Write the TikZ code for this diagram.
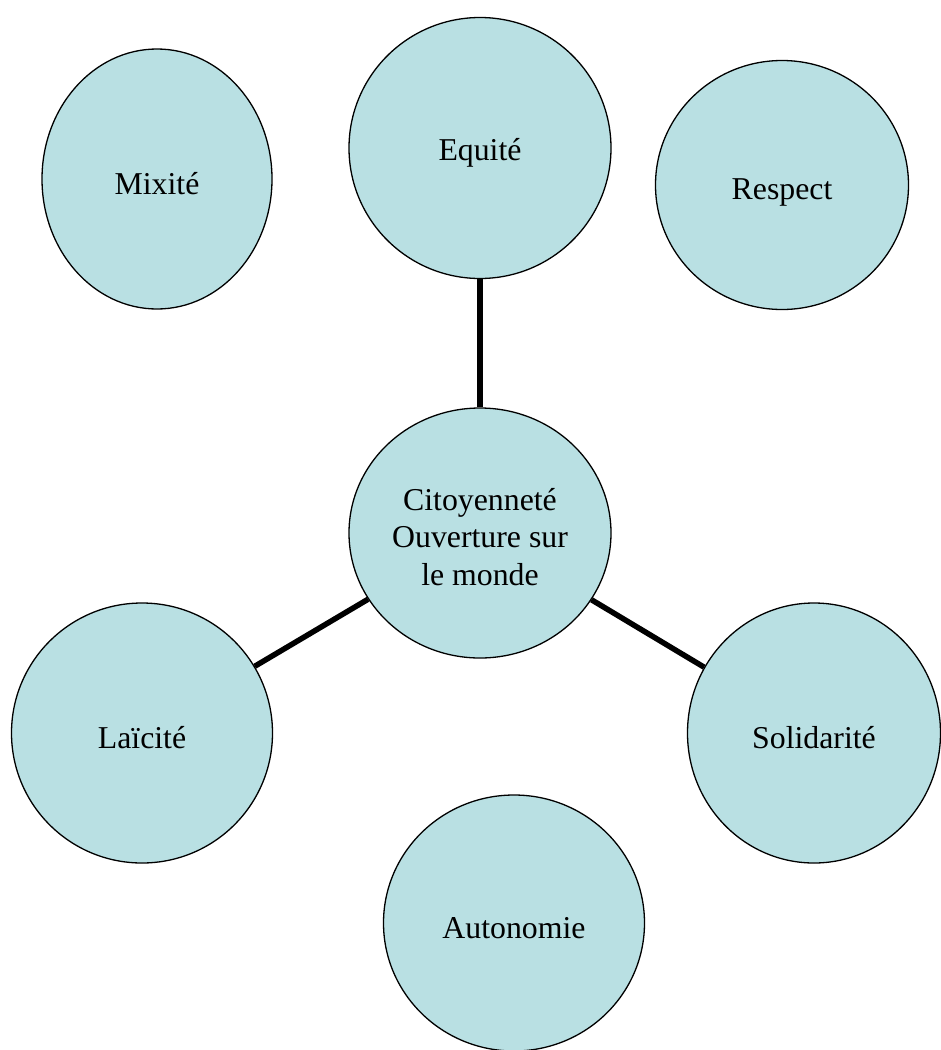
\documentclass[tikz,border=0pt]{standalone}
\usepackage{fontspec}
\setmainfont{Liberation Serif}
\usepackage{tikz}
\usetikzlibrary{shapes.geometric}

\definecolor{bulle}{RGB}{185,224,227}
\newcommand\abaisse[2][5pt]{\raisebox{-#1}[\height][\depth]{#2}}

\begin{document}
\begin{tikzpicture}[
    x=1pt, y=-1pt,
    valeur/.style={ellipse, draw, line width=1.3pt, fill=bulle, inner sep=0pt,
                   minimum width=#1, align=center,
                   font=\fontsize{31.8}{37.5}\selectfont},
    valeur/.default=260pt,
    lien/.style={line width=5.5pt},
]
\useasboundingbox (0,0) rectangle (941,1050);

% Valeurs autour
\node[valeur=230pt, minimum height=260pt] (mixite)     at (157,179) {\abaisse{Mixit\'e}};
\node[valeur=262pt, minimum height=261pt] (equite)     at (480,148) {\abaisse{Equit\'e}};
\node[valeur=253pt, minimum height=249pt] (respect)    at (782,185) {\abaisse[7pt]{Respect}};
\node[valeur=261pt, minimum height=260pt] (laicite)    at (142,733) {\abaisse{La\"icit\'e}};
\node[valeur=253pt, minimum height=260pt] (solidarite) at (814,733) {\abaisse{Solidarit\'e}};
\node[valeur=261pt, minimum height=256pt] (autonomie)  at (514,923) {\abaisse{Autonomie}};

% Centre
\node[valeur=262pt, minimum height=250pt] (centre) at (480,533)
    {\abaisse[7pt]{\begin{tabular}{@{}c@{}}Citoyennet\'e\\Ouverture sur\\le monde\end{tabular}}};

% Liens
\draw[lien] (centre) -- (equite);
\draw[lien] (centre) -- (laicite);
\draw[lien] (centre) -- (solidarite);

\end{tikzpicture}
\end{document}
